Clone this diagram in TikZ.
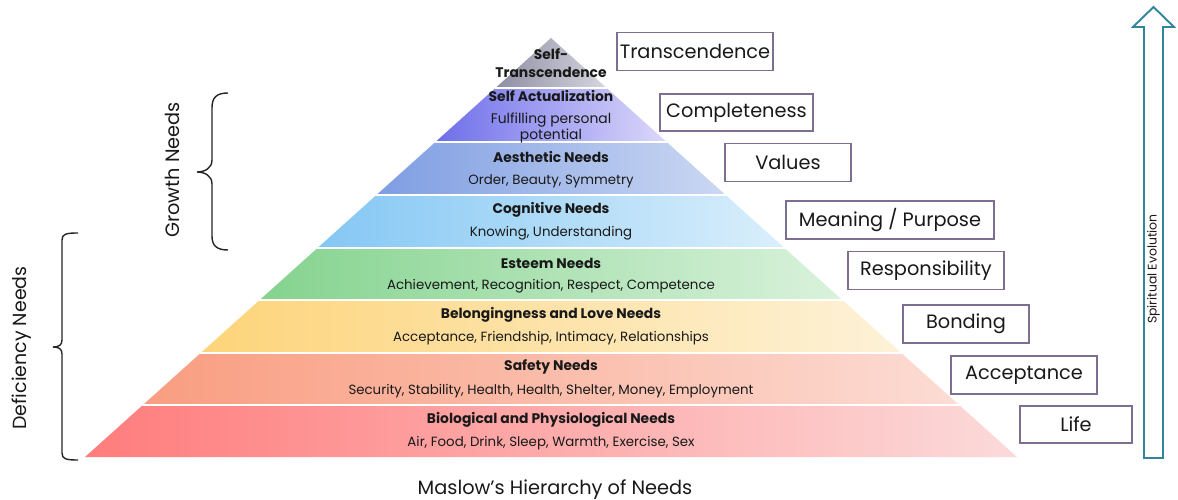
\documentclass[tikz,border=0pt]{standalone}
\usepackage{fontspec}
\setmainfont{Poppins}
\definecolor{topL}{HTML}{8E8EA3}\definecolor{topR}{HTML}{D6D6E0}
\definecolor{actL}{HTML}{6E6EEA}\definecolor{actR}{HTML}{DCD8FA}
\definecolor{aesL}{HTML}{7E9DE2}\definecolor{aesR}{HTML}{CBD8F2}
\definecolor{cogL}{HTML}{84C7F4}\definecolor{cogR}{HTML}{DAEFFB}
\definecolor{estL}{HTML}{84D38E}\definecolor{estR}{HTML}{DAF2DC}
\definecolor{belL}{HTML}{FDD47A}\definecolor{belR}{HTML}{FDF2D8}
\definecolor{safL}{HTML}{F99D80}\definecolor{safR}{HTML}{FCDCD4}
\definecolor{bioL}{HTML}{FF7C7C}\definecolor{bioR}{HTML}{FCDADA}
\definecolor{tagedge}{HTML}{7E6F92}
\definecolor{evo}{HTML}{31859C}
\begin{document}
\begin{tikzpicture}[x=0.02cm, y=-0.02cm, text=black!90,
    ttl/.style={font=\bfseries\fontsize{7.9}{9}\selectfont, inner sep=0pt},
    sub/.style={font=\fontsize{7.6}{9}\selectfont, inner sep=0pt},
    tag/.style={draw=tagedge, line width=0.7pt, fill=white, minimum height=0.76cm, inner sep=0pt, font=\fontsize{11}{13}\selectfont},
    side/.style={font=\fontsize{11}{13}\selectfont, rotate=90, inner sep=0pt},
    gap/.style={white, line width=1.3pt},
    brace/.style={black!85, line width=0.8pt}]
    \fill[white] (0,0) rectangle (1178,500);
    \useasboundingbox (0,0) rectangle (1178,500);
    \shade[left color=topL, right color=topR] (551,38)--(606.6,88)--(495.4,88)--cycle;
    \shade[left color=actL, right color=actR] (495.4,88)--(606.6,88)--(666.6,142)--(435.4,142)--cycle;
    \shade[left color=aesL, right color=aesR] (435.4,142)--(666.6,142)--(725.6,195)--(376.4,195)--cycle;
    \shade[left color=cogL, right color=cogR] (376.4,195)--(725.6,195)--(784.5,248)--(317.5,248)--cycle;
    \shade[left color=estL, right color=estR] (317.5,248)--(784.5,248)--(842.3,300)--(259.7,300)--cycle;
    \shade[left color=belL, right color=belR] (259.7,300)--(842.3,300)--(901.3,353)--(200.7,353)--cycle;
    \shade[left color=safL, right color=safR] (200.7,353)--(901.3,353)--(959.1,405)--(142.9,405)--cycle;
    \shade[left color=bioL, right color=bioR] (142.9,405)--(959.1,405)--(1017,457)--(85,457)--cycle;
    \draw[gap] (495,88)--(607,88) (435,142)--(667,142) (376,195)--(726,195) (317,248)--(785,248)
        (259,300)--(843,300) (200,353)--(902,353) (142,405)--(960,405);

    \node[ttl, align=center, font=\bfseries\fontsize{7.9}{10.2}\selectfont] (top) at (551,63) {Self-\\Transcendence};
    \node[ttl] (act) at (551,96) {Self Actualization};
    \node[sub, align=center, font=\fontsize{7.9}{9.6}\selectfont] (actS) at (551,128) {Fulfilling personal\\potential};
    \node[ttl] (aes) at (551,157) {Aesthetic Needs};
    \node[sub] (aesS) at (551,181) {Order, Beauty, Symmetry};
    \node[ttl] (cog) at (551,210) {Cognitive Needs};
    \node[sub] (cogS) at (551,233) {Knowing, Understanding};
    \node[ttl] (est) at (551,263) {Esteem Needs};
    \node[sub] (estS) at (551,286) {Achievement, Recognition, Respect, Competence};
    \node[ttl] (bel) at (551,315) {Belongingness and Love Needs};
    \node[sub] (belS) at (551,338) {Acceptance, Friendship, Intimacy, Relationships};
    \node[ttl] (saf) at (551,367) {Safety Needs};
    \node[sub] (safS) at (551,391) {Security, Stability, Health, Health, Shelter, Money, Employment};
    \node[ttl] (bio) at (551,420) {Biological and Physiological Needs};
    \node[sub] (bioS) at (551,443) {Air, Food, Drink, Sleep, Warmth, Exercise, Sex};

    \node[tag, minimum width=3.12cm] (trans) at (695,51.5) {Transcendence};
    \node[tag, minimum width=3.06cm, minimum height=0.74cm] (compl) at (736.5,112.5) {Completeness};
    \node[tag, minimum width=2.52cm] (vals) at (788,162.5) {Values};
    \node[tag, minimum width=4.16cm] (mean) at (890,220) {Meaning / Purpose};
    \node[tag, minimum width=3.12cm] (resp) at (926,270.5) {Responsibility};
    \node[tag, minimum width=2.52cm] (bond) at (966,324) {Bonding};
    \node[tag, minimum width=2.92cm] (accp) at (1024,375) {Acceptance};
    \node[tag, minimum width=2.24cm, minimum height=0.74cm] (life) at (1076,424.5) {Life};

    \draw[brace] (228,93) .. controls (216,93) and (212,98) .. (212,108) -- (212,160)
        .. controls (212,168) and (205,172) .. (197,172) .. controls (205,172) and (212,176) .. (212,184)
        -- (212,236) .. controls (212,245) and (216,250) .. (228,250);
    \node[side] (grow) at (172,170) {Growth Needs};
    \draw[brace] (78,233) .. controls (66,233) and (62,234) .. (62,240) -- (62,340)
        .. controls (62,345) and (59,347) .. (53,347) .. controls (59,347) and (62,349) .. (62,354)
        -- (62,453) .. controls (62,459) and (66,460) .. (78,460);
    \node[side, font=\fontsize{10.8}{13}\selectfont] (defi) at (22,348) {Deficiency Needs};

    \draw[evo, line width=1.1pt, fill=white, line join=miter] (1144,458) -- (1144,27) -- (1133,27) -- (1153.5,7)
        -- (1174,27) -- (1163,27) -- (1163,458) -- cycle;
    \node[side, font=\fontsize{7.1}{8}\selectfont] (spir) at (1153.5,269) {Spiritual Evolution};

    \node[font=\fontsize{11}{13}\selectfont, inner sep=0pt] (title) at (555,490) {Maslow’s Hierarchy of Needs};
\end{tikzpicture}
\end{document}
